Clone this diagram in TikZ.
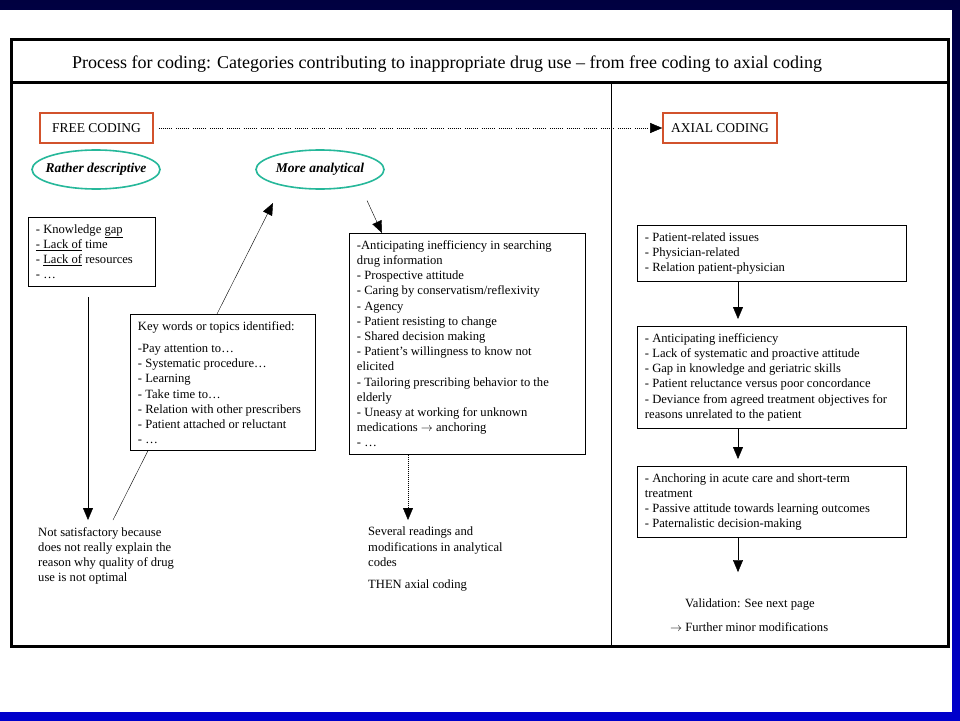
\documentclass[tikz,border=0pt]{standalone}
\usepackage{fontspec}
\setmainfont{Liberation Serif}
\usetikzlibrary{shapes.geometric,arrows.meta}
\definecolor{codered}{RGB}{210,82,44}
\definecolor{codeteal}{RGB}{38,184,154}
\definecolor{navytop}{RGB}{0,0,64}
\definecolor{bluebot}{RGB}{0,0,204}
\begin{document}
\begin{tikzpicture}[x=1pt,y=-1pt,
  codebox/.style={draw,line width=0.9pt,fill=white,anchor=north west,align=flush left,
    inner xsep=7.5pt,inner ysep=7pt,font=\fontsize{12.6}{15.2}\selectfont},
  stage/.style={draw=codered,line width=1.6pt,minimum height=30pt,
    font=\fontsize{13.5}{16}\selectfont},
  kind/.style={ellipse,draw=codeteal,line width=1.6pt,minimum width=128pt,
    minimum height=39pt,inner xsep=-6pt,inner ysep=5pt,
    font=\fontsize{13.5}{16}\selectfont\bfseries\itshape},
  note/.style={anchor=north west,align=left,inner sep=0pt,
    font=\fontsize{12.6}{15.2}\selectfont},
  tip/.style={-{Triangle[width=10pt,length=12pt]}},
  dotline/.style={dash pattern=on 1pt off 1pt on 1pt off 1pt on 1pt off 1pt on 1pt off 1pt
    on 1pt off 1pt on 1pt off 1pt on 1pt off 4pt},
  dotdown/.style={dash pattern=on 1pt off 1pt}]
  \useasboundingbox (0,0) rectangle (960,720);
  \shade[top color=navytop,bottom color=bluebot] (0,0) rectangle (960,720);
  \fill[white] (0,10) rectangle (952,712);
  \draw[line width=3pt] (11.5,39.5) rectangle (948,646);
  \draw[line width=3pt] (11.5,82) -- (948,82);
  \draw[line width=1pt] (611,82) -- (611,646);
  \node[anchor=west,inner sep=0pt,font=\fontsize{18}{20}\selectfont] (title) at (72,64)
    {Process for coding: Categories contributing to inappropriate drug use -- from free coding to axial coding};
  \node[stage,minimum width=113pt] (free) at (96.5,128) {FREE CODING};
  \node[stage,minimum width=114pt] (axial) at (720,128) {AXIAL CODING};
  \draw[dotline,tip,shorten <=5pt] (free.east) -- (axial.west);
  \node[kind] (descr) at (96,169.5) {Rather descriptive};
  \node[kind] (anal) at (320,169.5) {More analytical};
  \coordinate (sweep) at (113,520);
  \coordinate (analtip) at (273,203);
  \draw[tip] (sweep) -- (analtip);
  \node[codebox,text width=112pt] (gaps) at (28,217)
    {- Knowledge \underline{gap}\\
     \underline{- Lack of} time\\
     - \underline{Lack of} resources\\
     - \dots};
  \node[codebox,text width=170pt] (keys) at (130,314)
    {Key words or topics identified:\\[7pt]
     -Pay attention to\dots\\
     - Systematic procedure\dots\\
     - Learning\\
     - Take time to\dots\\
     - Relation with other prescribers\\
     - Patient attached or reluctant\\
     - \dots};
  \node[codebox,text width=221pt] (codes) at (349,233)
    {-Anticipating inefficiency in searching\\
     drug information\\
     - Prospective attitude\\
     - Caring by conservatism/reflexivity\\
     - Agency\\
     - Patient resisting to change\\
     - Shared decision making\\
     - Patient’s willingness to know not\\
     elicited\\
     - Tailoring prescribing behavior to the\\
     elderly\\
     - Uneasy at working for unknown\\
     medications $\rightarrow$ anchoring\\
     - \dots};
  \draw[tip,shorten <=11pt] (gaps.south -| 88,0) -- (88,520);
  \draw[tip] ([shift={(47,31)}]anal.center) -- ([xshift=33]codes.north west);
  \node[note] (notsat) at (38,527)
    {Not satisfactory because\\
     does not really explain the\\
     reason why quality of drug\\
     use is not optimal};
  \node[note] (several) at (368,527)
    {Several readings and\\
     modifications in analytical\\
     codes\\[7pt]
     THEN axial coding};
  \draw[dotdown,tip] ([xshift=59]codes.south west) -- ([xshift=59,yshift=7pt]codes.south west |- several.north);
  \node[codebox,text width=254pt] (groups) at (637,225)
    {- Patient-related issues\\
     - Physician-related\\
     - Relation patient-physician};
  \node[codebox,text width=254pt] (themes) at (637,326)
    {- Anticipating inefficiency\\
     - Lack of systematic and proactive attitude\\
     - Gap in knowledge and geriatric skills\\
     - Patient reluctance versus poor concordance\\
     - Deviance from agreed treatment objectives for\\
     reasons unrelated to the patient};
  \node[codebox,text width=254pt] (roots) at (637,466)
    {- Anchoring in acute care and short-term\\
     treatment\\
     - Passive attitude towards learning outcomes\\
     - Paternalistic decision-making};
  \node[note,anchor=west] (valid) at (685,604) {Validation: See next page};
  \node[note,anchor=west] (further) at (670,627) {$\rightarrow$ Further minor modifications};
  \draw[tip,shorten >=7pt] ([xshift=101]groups.south west) -- ([xshift=101]themes.north west);
  \draw[tip,shorten >=7pt] ([xshift=101]themes.south west) -- ([xshift=101]roots.north west);
  \draw[tip,shorten >=26pt] ([xshift=101]roots.south west) -- ([xshift=101]roots.south west |- valid.north);
\end{tikzpicture}
\end{document}
